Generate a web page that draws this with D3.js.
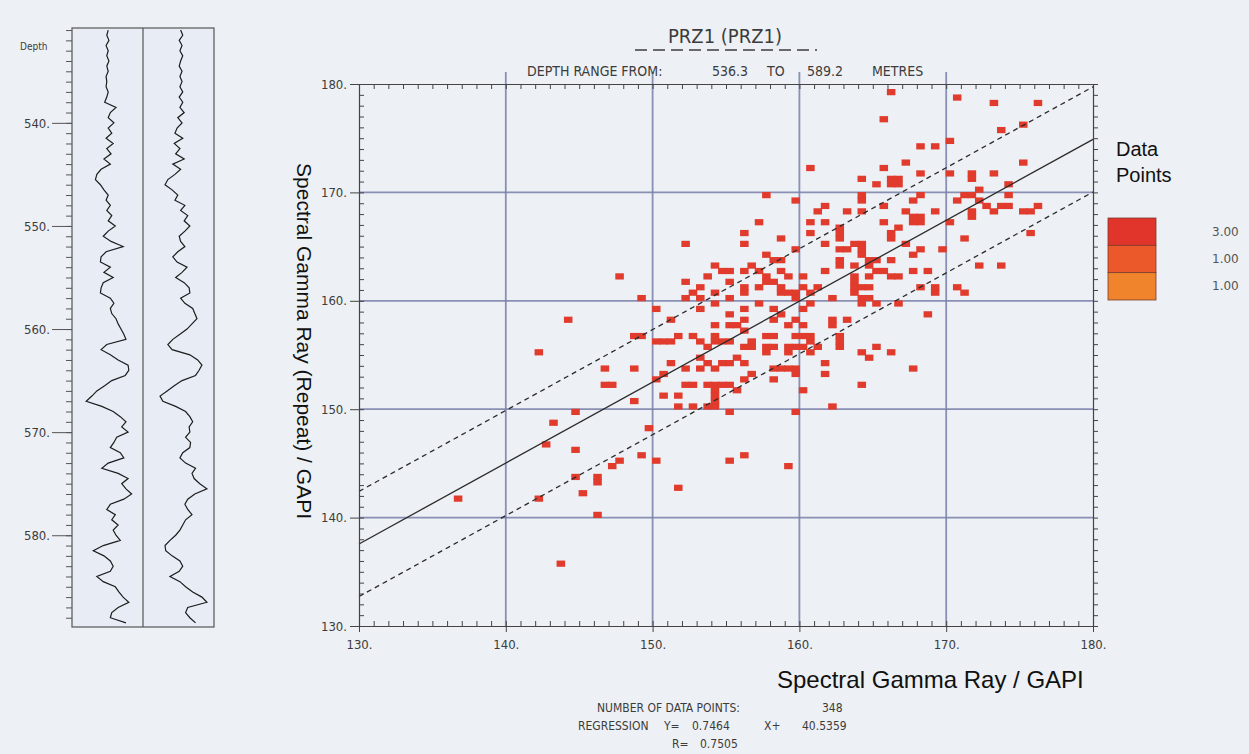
<!DOCTYPE html>
<html>
<head>
<meta charset="utf-8">
<script src="https://cdn.jsdelivr.net/npm/d3@7"></script>
<style>
  body { margin: 0; background: #edf0f4; }
  svg { display: block; }
  .plot text { font-family: "DejaVu Sans Condensed", "DejaVu Sans", sans-serif; font-stretch: condensed; fill: #3c3c3c; }
  .lbl { font-family: "Liberation Sans Narrow", "Liberation Sans", Arial, sans-serif; fill: #111; }
</style>
</head>
<body>
<svg class="viz" width="1249" height="754"></svg>
<script>
// crossplot ticks
var grTicks = [130, 140, 150, 160, 170, 180];
var depthTicks = [540, 550, 560, 570, 580];

// regression result printed under the plot
var slope = 0.7464, intercept = 40.5359, rValue = 0.7505, pointCount = 348;
var bandOffset = 4.85;

// legend
var legendCounts = ["3.00", "1.00", "1.00"];
var legendColors = ["#e1352b", "#eb5829", "#ef842c"];

// depth samples of both gamma ray curves (m)
var depths = d3.range(531, 589, 0.5);
// Spectral Gamma Ray (main pass), GAPI
var grMain = [151,149,152,148,151,149,152,149,151,148,
  149,148,151,149,146,162,154,151,159,151,156,148,158,149,155,145,154,141,135,133,
  140,145,151,148,154,149,156,151,161,151,144,155,172,148,141,140,154,145,158,144,
  141,140,154,159,154,156,162,165,169,173,176,149,141,154,165,179,180,175,
  156,146,135,128,120,142,158,168,176,170,179,163,159,154,168,173,151,142,165,179,
  170,176,184,173,154,149,161,156,165,158,162,168,144,130,145,154,158,154,135,144,
  161,166,172,180,165,156,154,176];
// Spectral Gamma Ray (repeat pass), GAPI
var grRepeat = [153,156,151,155,152,156,153,151,155,152,
  155,152,156,151,156,152,158,149,155,148,145,156,144,152,146,158,142,153,145,135,
  131,141,149,145,159,153,163,158,166,159,151,153,159,149,142,148,162,155,146,158,
  165,166,153,159,170,173,176,169,162,152,142,135,141,166,177,183,179,174,
  155,144,134,124,128,146,160,166,170,165,166,160,167,166,156,152,160,174,169,172,
  180,190,173,163,159,163,169,160,156,152,146,138,131,132,141,152,156,151,138,152,
  160,170,183,190,163,160,166,174];

// crossplot readings [gamma ray, gamma ray repeat], binned at 0.5 GAPI
var crossPoints = [
  [144.3,158.4],
  [160.7,172.4],[157.8,169.8],[159.8,169.3],[161.7,168.8],[161.2,168.3],[157.3,167.3],[160.7,167.3],[161.7,167.3],
  [156.3,166.3],[160.7,166.3],[162.8,166.8],[152.3,165.4],[156.3,165.4],[158.8,165.8],[161.7,165.4],[162.8,165.7],
  [162.8,164.8],[147.9,162.3],[157.8,164.3],[159.8,164.8],[158.2,163.9],[158.8,163.6],[154.4,163.3],[154.9,162.9],
  [155.3,162.6],[156.8,163.1],[156.3,162.6],[157.3,162.6],[157.8,162.2],[158.8,162.6],[159.3,162.2],[153.8,162.3],
  [160.3,162.3],[161.7,162.6],[162.8,163.7],[162.8,163.0],[152.3,161.8],[153.3,161.3],[152.8,160.8],[152.3,160.2],
  [149.3,160.2],[154.3,160.9],[155.3,161.7],[156.3,161.4],[156.3,160.8],[157.3,161.4],[157.8,161.7],[158.2,161.5],
  [158.8,161.4],[158.8,160.6],[159.3,160.9],[159.8,160.8],[159.8,160.2],[160.3,161.4],[160.7,160.9],[161.3,161.2],
  [162.3,160.3],[153.3,160.2],[155.3,160.3],[150.3,159.2],[151.4,158.1],[153.3,159.2],[154.3,159.7],[155.3,158.6],
  [156.3,159.2],[157.3,159.7],[158.2,159.2],[158.8,158.6],[160.3,159.2],[160.8,159.5],[162.3,158.3],[148.5,156.7],
  [149.0,156.7],[150.8,156.1],[151.8,156.7],[152.8,156.7],[154.3,157.7],[154.3,156.9],[154.3,156.1],[155.3,157.7],
  [155.8,157.7],[156.3,158.1],[156.3,157.1],[155.3,156.4],[158.2,158.1],[157.8,156.9],[158.2,156.7],[159.3,157.7],
  [159.8,158.1],[160.3,157.7],[159.8,156.9],[160.3,156.9],[160.8,156.7],[162.3,157.7],[162.8,156.9],[156.9,156.1],
  [166.2,179.3],[170.7,178.8],[173.3,178.4],[176.3,178.4],[165.7,176.9],[173.8,175.9],[175.2,176.3],[170.3,174.9],
  [168.2,174.3],[169.3,174.3],[167.3,172.8],[165.7,172.4],[175.2,172.8],[168.2,171.9],[170.3,171.9],[171.7,171.9],
  [171.7,171.3],[173.3,171.9],[164.3,171.4],[165.3,170.8],[166.3,171.4],[166.8,171.4],[166.3,170.8],[166.8,170.8],
  [172.3,170.4],[174.3,170.8],[171.3,169.8],[171.7,169.8],[174.3,169.8],[164.3,169.8],[164.3,169.3],[168.2,169.8],
  [167.7,169.3],[170.7,169.3],[172.3,169.3],[172.8,168.8],[173.3,168.4],[173.8,168.8],[174.3,168.8],[175.2,168.4],
  [175.7,168.4],[176.3,168.8],[163.2,168.4],[164.3,168.4],[165.7,168.8],[167.2,168.4],[169.3,168.4],[171.7,168.2],
  [171.7,167.7],[167.7,167.9],[168.2,167.9],[167.7,167.4],[168.2,167.1],[165.7,167.3],[166.7,166.8],[170.3,167.3],
  [166.2,166.3],[166.2,165.9],[175.7,166.3],[171.3,165.9],[167.2,165.4],[164.3,165.4],[163.8,165.4],[164.3,164.8],
  [168.2,164.8],[167.7,164.3],[169.8,164.8],[163.2,164.8],[164.3,164.3],[164.7,163.9],[165.2,163.9],[166.2,163.9],
  [163.8,163.3],[164.7,163.3],[165.2,162.8],[165.7,162.8],[164.7,162.3],[166.2,162.3],[166.8,162.3],[167.7,162.9],
  [168.7,162.9],[172.3,163.3],[173.8,163.3],[163.8,162.3],[163.8,161.7],[163.8,161.2],[164.3,161.2],[164.7,161.2],
  [163.8,160.8],[164.3,160.3],[164.7,160.3],[164.3,159.8],[165.3,159.8],[166.8,159.8],[168.2,161.3],[169.3,161.2],
  [169.3,160.8],[170.7,161.3],[171.3,160.8],[168.7,158.8],[163.1,158.3],[162.8,166.3],
  [142.2,155.4],[146.6,153.9],[146.6,152.4],[144.8,149.8],[143.3,148.8],[142.8,146.8],[144.8,146.4],[144.8,143.8],
  [146.3,143.8],[146.3,143.3],[145.3,142.3],[136.7,141.8],[142.2,141.8],[146.3,140.3],[143.7,135.8],
  [148.6,153.9],[147.2,152.4],[148.6,150.8],[150.2,152.7],[150.7,153.4],[151.3,154.3],[150.7,151.3],[151.7,151.3],
  [151.7,150.4],[152.7,150.4],[152.2,152.4],[152.7,152.4],[152.2,153.9],[153.2,153.9],[153.6,154.3],[153.2,154.9],
  [153.8,152.4],[154.3,152.4],[154.3,151.9],[154.3,151.4],[154.3,150.9],[154.8,152.4],[155.3,152.4],[153.8,150.4],
  [154.3,150.4],[155.2,149.8],[155.7,151.9],[156.2,152.9],[156.7,153.4],[156.2,154.3],[155.7,154.9],[155.2,154.3],
  [157.7,155.0],[158.2,152.9],[158.2,153.9],[158.8,153.9],[159.2,153.9],[159.8,153.4],[159.8,153.9],[159.3,155.6],
  [159.8,155.6],[160.3,155.6],[160.7,156.0],[160.7,155.1],[161.3,155.6],[160.3,151.9],[161.7,154.3],[161.7,153.4],
  [162.3,150.4],[159.7,149.8],[149.7,148.2],[149.2,145.7],[150.3,145.2],[147.3,144.7],[147.7,145.2],[151.7,142.8],
  [155.2,145.3],[156.2,145.7],[159.2,144.7],[154.1,153.9],[154.5,154.3],
  [150.3,156.1],[151.3,156.1],[153.2,156.1],[153.7,155.6],[154.6,156.4],[156.3,155.6],[156.8,155.6],[157.8,155.6],
  [158.3,155.6],[159.3,155.1],[162.8,155.6],
  [164.3,155.4],[164.8,154.9],[165.3,155.8],[166.2,155.4],[167.8,153.9],[164.3,152.3],[162.8,156.2]
];

var svg = d3.select(".viz"),
    plot = svg.append("g").attr("class", "plot"),
    margin = {top: 84, right: 156, bottom: 128, left: 359},
    width = 1249 - margin.left - margin.right,
    height = 754 - margin.top - margin.bottom;

var xScale = d3.scaleLinear().domain([130, 180]).range([margin.left, margin.left + width]);
var yScale = d3.scaleLinear().domain([130, 180]).range([margin.top + height, margin.top]);

// ---------- log track panel ----------
var depthScale = d3.scaleLinear().domain([530.8, 588.9]).range([28, 627]);
var trackLeft = d3.scaleLinear().domain([100, 200]).range([72, 143]);
var trackRight = d3.scaleLinear().domain([100, 200]).range([143, 214]);

plot.append("rect")
  .attr("x", trackLeft(100)).attr("y", depthScale(530.8))
  .attr("width", trackRight(200) - trackLeft(100))
  .attr("height", depthScale(588.9) - depthScale(530.8))
  .attr("fill", "#e8ecf4").attr("stroke", "#555").attr("stroke-width", 1.2);

plot.append("line")
  .attr("x1", trackRight(100)).attr("x2", trackRight(100))
  .attr("y1", depthScale(530.8)).attr("y2", depthScale(588.9))
  .attr("stroke", "#555").attr("stroke-width", 1.2);

var minorDepth = d3.axisLeft(depthScale).tickValues(d3.range(531, 589)).tickSize(6).tickFormat("");
plot.append("g").attr("transform", "translate(" + trackLeft(100) + ",0)").call(minorDepth)
  .call(function (g) { g.select(".domain").remove(); g.selectAll("line").attr("stroke", "#555"); });

var majorDepth = d3.axisLeft(depthScale).tickValues(depthTicks).tickSize(20).tickPadding(2)
  .tickFormat(function (d) { return d + "."; });
plot.append("g").attr("transform", "translate(" + trackLeft(100) + ",0)").call(majorDepth)
  .call(function (g) {
    g.select(".domain").remove();
    g.selectAll("line").attr("stroke", "#555");
    g.selectAll("text").attr("font-size", 13).attr("fill", "#3c3c3c")
      .attr("font-family", "DejaVu Sans Condensed, DejaVu Sans, sans-serif");
  });

plot.append("text").text("Depth").attr("x", 20).attr("y", 50).attr("font-size", 10);

var mainLine = d3.line()
  .x(function (d, i) { return trackLeft(d); })
  .y(function (d, i) { return depthScale(depths[i]); });
var repeatLine = d3.line()
  .x(function (d, i) { return trackRight(d); })
  .y(function (d, i) { return depthScale(depths[i]); });

plot.append("path").datum(grMain).attr("d", mainLine)
  .attr("fill", "none").attr("stroke", "#1d1d1d").attr("stroke-width", 1.2);
plot.append("path").datum(grRepeat).attr("d", repeatLine)
  .attr("fill", "none").attr("stroke", "#1d1d1d").attr("stroke-width", 1.2);

// ---------- crossplot ----------
// grid
var inner = grTicks.slice(1, -1);
plot.selectAll(".gx").data(inner).enter().append("line")
  .attr("x1", function (d) { return xScale(d); }).attr("x2", function (d) { return xScale(d); })
  .attr("y1", yScale(130)).attr("y2", yScale(180) - 12)
  .attr("stroke", "#7880aa").attr("stroke-width", 1.8).attr("opacity", 0.85);
plot.selectAll(".gy").data(inner).enter().append("line")
  .attr("y1", function (d) { return yScale(d); }).attr("y2", function (d) { return yScale(d); })
  .attr("x1", xScale(130)).attr("x2", xScale(180))
  .attr("stroke", "#7880aa").attr("stroke-width", 1.8).attr("opacity", 0.85);

// data cells
var cells = d3.rollups(crossPoints, function (v) { return v.length; },
  function (d) { return Math.floor(d[0] * 2) / 2 + "|" + Math.floor(d[1] * 2) / 2; })
  .map(function (c) { var p = c[0].split("|"); return {x: +p[0], y: +p[1], n: c[1]}; });

plot.selectAll(".cell").data(cells).enter().append("rect")
  .attr("x", function (d) { return xScale(d.x) - 0.6; })
  .attr("y", function (d) { return yScale(d.y + 0.5) - 0.4; })
  .attr("width", function (d) { return xScale(d.x + 0.5) - xScale(d.x) + 1.2; })
  .attr("height", function (d) { return yScale(d.y) - yScale(d.y + 0.5) + 0.8; })
  .attr("fill", "#e03b2d");

// regression line and band
var regression = function (v) { return slope * v + intercept; };
plot.append("line")
  .attr("x1", xScale(130)).attr("y1", yScale(regression(130)))
  .attr("x2", xScale(180)).attr("y2", yScale(regression(180)))
  .attr("stroke", "#2b2b2b").attr("stroke-width", 1.3);
[bandOffset, -bandOffset].forEach(function (o) {
  plot.append("line")
    .attr("x1", xScale(130)).attr("y1", yScale(regression(130) + o))
    .attr("x2", xScale(180)).attr("y2", yScale(regression(180) + o))
    .attr("stroke", "#2b2b2b").attr("stroke-width", 1.3).attr("stroke-dasharray", "5,4");
});

// frame with minor ticks
var minor = d3.range(130, 181);
var styleAxis = function (g) {
  g.selectAll("line").attr("stroke", "#444");
  g.select(".domain").attr("stroke", "#444").attr("stroke-width", 1.2);
};
plot.append("g").attr("transform", "translate(0," + yScale(130) + ")")
  .call(d3.axisBottom(xScale).tickValues(minor).tickSize(-5).tickSizeOuter(0).tickFormat("")).call(styleAxis);
plot.append("g").attr("transform", "translate(0," + yScale(180) + ")")
  .call(d3.axisTop(xScale).tickValues(minor).tickSize(-5).tickSizeOuter(0).tickFormat("")).call(styleAxis);
plot.append("g").attr("transform", "translate(" + xScale(130) + ",0)")
  .call(d3.axisLeft(yScale).tickValues(minor).tickSize(-5).tickSizeOuter(0).tickFormat("")).call(styleAxis);
plot.append("g").attr("transform", "translate(" + xScale(180) + ",0)")
  .call(d3.axisRight(yScale).tickValues(minor).tickSize(5).tickSizeOuter(0).tickFormat("")).call(styleAxis);

// major ticks with labels
var labelAxis = function (g) {
  g.select(".domain").remove();
  g.selectAll("line").attr("stroke", "#444");
  g.selectAll("text").attr("font-size", 13).attr("fill", "#3c3c3c")
    .attr("font-family", "DejaVu Sans Condensed, DejaVu Sans, sans-serif");
};
plot.append("g").attr("transform", "translate(0," + yScale(130) + ")")
  .call(d3.axisBottom(xScale).tickValues(grTicks).tickSize(6).tickPadding(8)
    .tickFormat(function (d) { return d + "."; })).call(labelAxis);
plot.append("g").attr("transform", "translate(" + xScale(130) + ",0)")
  .call(d3.axisLeft(yScale).tickValues(grTicks).tickSize(9).tickPadding(3)
    .tickFormat(function (d) { return d + "."; })).call(labelAxis);

// header
plot.append("text").text("PRZ1 (PRZ1)").attr("x", 725).attr("y", 43)
  .attr("text-anchor", "middle").attr("font-size", 20);
plot.append("line").attr("x1", 635).attr("x2", 817).attr("y1", 50).attr("y2", 50)
  .attr("stroke", "#3c3c3c").attr("stroke-width", 1.5).attr("stroke-dasharray", "12,6");
var header = [["DEPTH RANGE FROM:", 527], ["536.3", 712], ["TO", 767], ["589.2", 807], ["METRES", 872]];
plot.selectAll(".hdr").data(header).enter().append("text")
  .text(function (d) { return d[0]; })
  .attr("x", function (d) { return d[1]; }).attr("y", 76).attr("font-size", 14);

// footer
var footer = [
  ["NUMBER OF DATA POINTS:", 597, 712], [String(pointCount), 822, 712],
  ["REGRESSION", 578, 730], ["Y=", 664, 730], [slope.toFixed(4), 692, 730],
  ["X+", 764, 730], [intercept.toFixed(4), 802, 730],
  ["R=", 672, 748], [rValue.toFixed(4), 700, 748]
];
plot.selectAll(".ftr").data(footer).enter().append("text")
  .text(function (d) { return d[0]; })
  .attr("x", function (d) { return d[1]; }).attr("y", function (d) { return d[2]; })
  .attr("font-size", 12);

// axis titles
svg.append("text").attr("class", "lbl").text("Spectral Gamma Ray / GAPI")
  .attr("x", 777).attr("y", 688).attr("font-size", 24);
svg.append("text").attr("class", "lbl").text("Spectral Gamma Ray (Repeat) / GAPI")
  .attr("transform", "translate(297,341) rotate(90)")
  .attr("text-anchor", "middle").attr("font-size", 21);

// legend
svg.append("text").attr("class", "lbl").text("Data").attr("x", 1116).attr("y", 156).attr("font-size", 20);
svg.append("text").attr("class", "lbl").text("Points").attr("x", 1116).attr("y", 182).attr("font-size", 20);
var legendY = d3.scaleBand().domain(d3.range(legendCounts.length)).range([218, 300]);
svg.selectAll(".sw").data(legendColors).enter().append("rect")
  .attr("x", 1108).attr("y", function (d, i) { return legendY(i); })
  .attr("width", 48).attr("height", legendY.bandwidth())
  .attr("fill", function (d) { return d; }).attr("stroke", "#7a3b2e").attr("stroke-width", 0.8);
svg.selectAll(".lt").data(legendCounts).enter().append("text")
  .text(function (d) { return d; })
  .attr("x", 1212).attr("y", function (d, i) { return legendY(i) + legendY.bandwidth() / 2 + 4; })
  .attr("font-size", 12).attr("fill", "#555")
  .attr("font-family", "DejaVu Sans, sans-serif");
</script>
</body>
</html>
